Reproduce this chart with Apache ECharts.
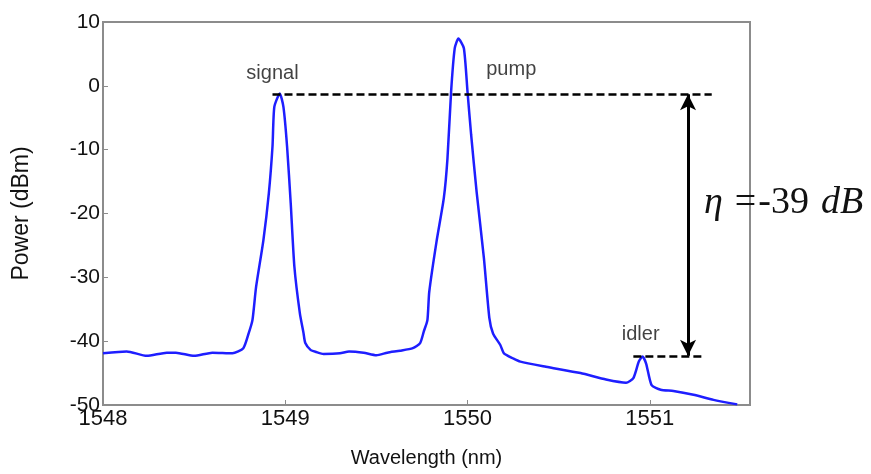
<!DOCTYPE html>
<html>
<head>
<meta charset="utf-8">
<script src="https://cdn.jsdelivr.net/npm/echarts@6/dist/echarts.min.js"></script>
<style>
html,body{margin:0;padding:0;background:#fff;}
#chart{width:871px;height:474px;}
</style>
</head>
<body>
<div id="chart"></div>
<script>
// ---- data ----
const wavelengthNm = [
  1548.00, 1548.13, 1548.24, 1548.35, 1548.40, 1548.50, 1548.60, 1548.71, 1548.77, 1548.80,
  1548.82, 1548.84, 1548.88, 1548.91, 1548.93, 1548.94, 1548.97, 1548.99, 1549.01, 1549.03,
  1549.05, 1549.08, 1549.10, 1549.11, 1549.14, 1549.17, 1549.21, 1549.30, 1549.35, 1549.43,
  1549.50, 1549.56, 1549.63, 1549.70, 1549.74, 1549.76, 1549.78, 1549.79, 1549.83, 1549.87,
  1549.89, 1549.91, 1549.93, 1549.95, 1549.98, 1550.00, 1550.02, 1550.05, 1550.09, 1550.12,
  1550.14, 1550.18, 1550.20, 1550.25, 1550.29, 1550.43, 1550.62, 1550.76, 1550.87, 1550.91,
  1550.94, 1550.96, 1550.98, 1551.01, 1551.06, 1551.13, 1551.24, 1551.35, 1551.48
];
const powerDbm = [
  -41.9, -41.6, -42.3, -41.8, -41.8, -42.3, -41.8, -41.9, -41.1, -38.7,
  -36.7, -31.5, -24.2, -16.8, -9.5, -3.3, -1.2, -3.3, -9.5, -18.4,
  -28.3, -35.6, -38.7, -40.3, -41.4, -41.7, -42.0, -41.9, -41.6, -41.8,
  -42.2, -41.8, -41.5, -41.1, -40.3, -38.5, -36.7, -32.3, -24.4, -17.6,
  -11.4, -0.9, 5.9, 7.4, 5.9, -0.9, -7.7, -16.6, -27.0, -36.4,
  -38.8, -40.6, -41.9, -42.7, -43.2, -44.0, -45.0, -46.0, -46.5, -45.8,
  -43.2, -42.4, -43.5, -46.9, -47.6, -47.8, -48.4, -49.2, -49.9
];
const peakNames = ['signal', 'pump', 'idler'];
const peakLabelX = [1548.93, 1550.24, 1550.95];
const peakLabelY = [2.0, 2.5, -38.9];
const signalLevel = -1.3;
const idlerLevel = -42.3;
const signalLineX = [1548.93, 1551.34];
const idlerLineX = [1550.91, 1551.29];
const arrowX = 1551.21;
const etaText = ['η', '=', '-39', 'dB'];
const xTicks = [1548, 1549, 1550, 1551];
const yTicks = [-50, -40, -30, -20, -10, 0, 10];

const chart = echarts.init(document.getElementById('chart'), null, {renderer: 'canvas'});
const lineData = wavelengthNm.map((w, i) => [w, powerDbm[i]]);
const labelData = peakNames.map((n, i) => ({name: n, value: [peakLabelX[i], peakLabelY[i]]}));
const txt = '#111';

const option = {
  backgroundColor: '#fff',
  animation: false,
  grid: {left: 103, right: 121, top: 22, bottom: 69, show: true, borderColor: '#8c8c8c', borderWidth: 2, backgroundColor: '#fff'},
  xAxis: {
    type: 'value', min: xTicks[0], max: 1551.55, interval: 1,
    name: 'Wavelength (nm)', nameLocation: 'middle', nameGap: 43,
    nameTextStyle: {fontFamily: 'Liberation Sans', fontSize: 20, color: txt},
    axisLine: {show: false, onZero: false},
    axisTick: {show: true, inside: true, length: 5, lineStyle: {color: '#8c8c8c'}},
    splitLine: {show: false},
    axisLabel: {fontFamily: 'Liberation Sans', fontSize: 22, color: txt, margin: 3, showMaxLabel: false,
      formatter: v => (Number.isInteger(v) ? String(v) : '')}
  },
  yAxis: {
    type: 'value', min: yTicks[0], max: yTicks[yTicks.length - 1], interval: 10,
    name: 'Power (dBm)', nameLocation: 'middle', nameGap: 70,
    nameTextStyle: {fontFamily: 'Liberation Sans', fontSize: 23, color: txt},
    axisLine: {show: false, onZero: false},
    axisTick: {show: true, inside: true, length: 5, lineStyle: {color: '#8c8c8c'}},
    splitLine: {show: false},
    axisLabel: {fontFamily: 'Liberation Sans', fontSize: 21, color: txt, margin: 3}
  },
  graphic: [{
    type: 'text', left: 704, top: 184, silent: true,
    style: {
      text: '{i|' + etaText[0] + '}{e|' + etaText[1] + '}{n|' + etaText[2] + '}{d|' + etaText[3] + '}',
      rich: {
        i: {fontFamily: 'Liberation Serif', fontStyle: 'italic', fontSize: 38, fill: '#111'},
        e: {fontFamily: 'Liberation Serif', fontSize: 38, fill: '#111', padding: [0, 2, 0, 12]},
        n: {fontFamily: 'Liberation Serif', fontSize: 38, fill: '#111'},
        d: {fontFamily: 'Liberation Serif', fontStyle: 'italic', fontSize: 38, fill: '#111', padding: [0, 0, 0, 12]}
      }
    }
  }],
  series: [
    {
      type: 'line', data: lineData, showSymbol: false, smooth: 0.2,
      lineStyle: {color: '#1e1eff', width: 2.5}, z: 3,
      markLine: {
        silent: true, symbol: ['none', 'none'], label: {show: false},
        data: [
          [{coord: [signalLineX[0], signalLevel], lineStyle: {color: '#000', width: 2.5, type: [8, 4]}},
           {coord: [signalLineX[1], signalLevel]}],
          [{coord: [idlerLineX[0], idlerLevel], lineStyle: {color: '#000', width: 2.5, type: [8, 4]}},
           {coord: [idlerLineX[1], idlerLevel]}]
        ]
      }
    },
    {
      type: 'line', data: [], silent: true,
      markLine: {
        silent: true, symbol: ['arrow', 'arrow'], symbolSize: [12, 16], label: {show: false},
        lineStyle: {color: '#000', width: 3, type: 'solid'},
        data: [[{coord: [arrowX, signalLevel]}, {coord: [arrowX, idlerLevel]}]]
      }
    },
    {
      type: 'scatter', data: labelData, symbolSize: 0, silent: true,
      label: {show: true, position: 'inside', formatter: p => p.name,
        fontFamily: 'Liberation Sans', fontSize: 20, color: '#111'}
    }
  ]
};
chart.setOption(option);
</script>
</body>
</html>
